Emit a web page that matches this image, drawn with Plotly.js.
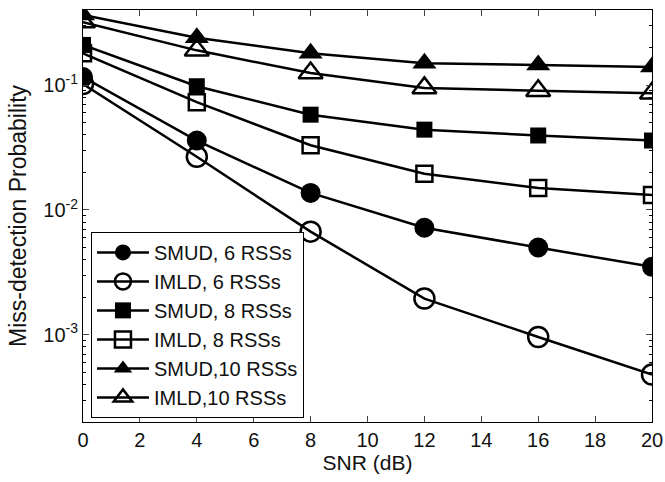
<!DOCTYPE html>
<html>
<head>
<meta charset="utf-8">
<script src="https://cdn.plot.ly/plotly-3.0.1.min.js"></script>
<style>html,body{margin:0;padding:0;background:#fff;}#chart{width:665px;height:482px;}</style>
</head>
<body>
<div id="chart"></div>
<script>
var snr = [0, 4, 8, 12, 16, 20];
var smud6  = [0.116, 0.036, 0.0137, 0.0072, 0.0050, 0.0035];
var imld6  = [0.102, 0.0267, 0.0067, 0.00195, 0.00096, 0.00048];
var smud8  = [0.21, 0.098, 0.058, 0.044, 0.0395, 0.036];
var imld8  = [0.18, 0.073, 0.033, 0.0195, 0.015, 0.0132];
var smud10 = [0.365, 0.24, 0.18, 0.15, 0.145, 0.14];
var imld10 = [0.32, 0.19, 0.125, 0.095, 0.09, 0.086];
var names = ["SMUD, 6 RSSs", "IMLD, 6 RSSs", "SMUD, 8 RSSs", "IMLD, 8 RSSs", "SMUD,10 RSSs", "IMLD,10 RSSs"];
var yTickVals = [0.001, 0.01, 0.1];
var yTickText = ["10<sup>-3</sup>", "10<sup>-2</sup>", "10<sup>-1</sup>"];
var xTickVals = [0, 2, 4, 6, 8, 10, 12, 14, 16, 18, 20];

var series = [smud6, imld6, smud8, imld8, smud10, imld10];
var symbols = ["circle", "circle-open", "square", "square-open", "triangle-up", "triangle-up-open"];
var sizes = [20, 20, 16, 16, 21, 21];
var traces = series.map(function (ys, i) {
  return {
    x: snr, y: ys, name: names[i], type: "scatter", mode: "lines+markers",
    line: {color: "#000", width: 2.5},
    marker: {symbol: symbols[i], size: sizes[i], color: "#000",
             line: {color: "#000", width: symbols[i].indexOf("open") >= 0 ? 2.5 : 0}}
  };
});

var minorVals = [];
[0.0001, 0.001, 0.01, 0.1].forEach(function (d) {
  for (var k = 2; k <= 9; k++) minorVals.push(d * k);
});

var layout = {
  width: 665, height: 482,
  margin: {l: 83, r: 13, t: 10, b: 60},
  paper_bgcolor: "#fff", plot_bgcolor: "#fff",
  font: {family: "Liberation Sans, Arial, sans-serif", color: "#111", size: 20},
  showlegend: true,
  legend: {x: 0.014, y: 0.01, xanchor: "left", yanchor: "bottom",
           bordercolor: "#000", borderwidth: 1, bgcolor: "#fff",
           itemwidth: 52,
           font: {size: 20, color: "#111"}},
  xaxis: {range: [0, 20], tickvals: xTickVals, ticks: "inside", ticklen: 6,
          tickfont: {size: 20},
          showline: true, linecolor: "#000", linewidth: 1, mirror: "ticks",
          showgrid: false, zeroline: false,
          title: {text: "SNR (dB)", font: {size: 21}, standoff: 4}},
  yaxis: {type: "log", range: [Math.log10(2e-4), Math.log10(0.4)],
          tickvals: yTickVals, ticktext: yTickText, ticks: "inside", ticklen: 6,
          tickfont: {size: 20},
          minor: {tickvals: minorVals, ticks: "inside", ticklen: 3, tickcolor: "#000", showgrid: false},
          showline: true, linecolor: "#000", linewidth: 1, mirror: "ticks",
          showgrid: false, zeroline: false,
          title: {text: "Miss-detection Probability", font: {size: 23}, standoff: 10}}
};

Plotly.newPlot("chart", traces, layout, {displayModeBar: false, staticPlot: true});
</script>
</body>
</html>
